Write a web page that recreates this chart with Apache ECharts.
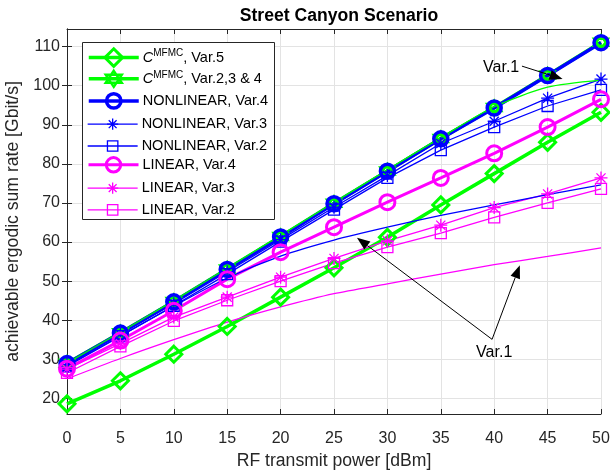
<!DOCTYPE html>
<html>
<head>
<meta charset="utf-8">
<script src="https://cdn.jsdelivr.net/npm/echarts@6/dist/echarts.min.js"></script>
<style>
  html, body { margin: 0; padding: 0; background: #fff; }
  #chart { width: 610px; height: 472px; }
</style>
</head>
<body>
<div id="chart"></div>
<script>
// RF transmit power grid [dBm]
const powerDbm = [0, 5, 10, 15, 20, 25, 30, 35, 40, 45, 50];
const yTicks = [20, 30, 40, 50, 60, 70, 80, 90, 100, 110];

// achievable ergodic sum rate [Gbit/s]
const mfmcVar5     = [18.6, 24.5, 31.3, 38.4, 45.9, 53.4, 61.2, 69.5, 77.5, 85.5, 93.2];
const mfmcVar234   = [29.0, 36.8, 44.8, 53.1, 61.4, 69.9, 78.2, 86.5, 94.4, 102.7, 111.1];
const nonlinVar4   = [28.9, 36.7, 44.7, 53.0, 61.3, 69.8, 78.1, 86.4, 94.3, 102.6, 111.0];
const nonlinVar3   = [28.7, 36.4, 44.2, 52.4, 60.6, 68.9, 77.0, 85.2, 90.9, 96.8, 101.7];
const nonlinVar2   = [28.2, 35.9, 43.7, 51.8, 60.1, 68.3, 76.4, 83.5, 89.4, 94.8, 98.9];
const linVar4      = [27.6, 34.8, 42.4, 50.5, 57.4, 63.8, 70.2, 76.4, 82.7, 89.4, 96.5];
const linVar3      = [27.5, 34.0, 40.8, 45.9, 51.0, 55.8, 60.3, 64.3, 68.8, 72.3, 76.4];
const linVar2      = [26.5, 33.3, 39.8, 45.1, 50.0, 54.6, 58.7, 62.3, 66.3, 70.0, 73.6];
// Var.1 curves (not in the legend)
const mfmcVar1     = [29.0, 36.9, 45.0, 53.3, 61.7, 70.1, 78.5, 86.7, 94.6, 99.6, 101.4];
const nonlinVar1   = [28.4, 36.0, 43.6, 50.8, 56.4, 60.5, 63.8, 66.8, 69.5, 72.1, 74.6];
const linVar1      = [25.0, 30.2, 35.0, 39.5, 43.4, 46.8, 49.3, 51.8, 54.2, 56.3, 58.5];

// Annotation anchors, in data units: text position, arrow start, arrow tips
const noteTopText  = [40.65, 104.7];
const noteTopFrom  = [42.6, 105.0];
const noteTopTips  = [[46.4, 101.7]];
const noteLowText  = [40.0, 31.6];
const noteLowFrom  = [39.8, 35.1];
const noteLowTips  = [[27.15, 61.1], [42.4, 54.05]];

const GREEN = '#00ff00', BLUE = '#0000ff', MAGENTA = '#ff00ff';
const AXIS = '#262626', GRID = '#e3e3e3';
const FONT = '"Liberation Sans", Arial, Helvetica, sans-serif';

const ASTERISK = 'path://M0,-1L0,1M-1,0L1,0M-0.7,-0.7L0.7,0.7M-0.7,0.7L0.7,-0.7';
const HEXAGRAM = 'path://M0,-1L0.866,0.5L-0.866,0.5Z M0,1L0.866,-0.5L-0.866,-0.5Z';

function pair(ys) { return powerDbm.map((x, i) => [x, ys[i]]); }

function curve(name, ys, color, width, symbol, size, markerWidth, smooth) {
  return {
    type: 'line',
    name: name,
    data: pair(ys),
    symbol: symbol || 'none',
    symbolSize: size || 0,
    showSymbol: !!symbol,
    smooth: smooth || false,
    lineStyle: { color: color, width: width },
    itemStyle: { color: 'rgba(0,0,0,0)', borderColor: color, borderWidth: markerWidth || width },
    emphasis: { disabled: true },
    z: 3
  };
}

const series = [
  curve('CMFMC, Var.5', mfmcVar5, GREEN, 3.5, 'diamond', 16, 3),
  curve('CMFMC, Var.2,3 & 4', mfmcVar234, GREEN, 3.5, HEXAGRAM, 14, 2.5),
  curve('NONLINEAR, Var.4', nonlinVar4, BLUE, 3.5, 'circle', 14, 3.5),
  curve('NONLINEAR, Var.3', nonlinVar3, BLUE, 1.3, ASTERISK, 13, 1.3),
  curve('NONLINEAR, Var.2', nonlinVar2, BLUE, 1.3, 'rect', 11, 1.3),
  curve('LINEAR, Var.4', linVar4, MAGENTA, 3, 'circle', 15, 3),
  curve('LINEAR, Var.3', linVar3, MAGENTA, 1.3, ASTERISK, 13, 1.3),
  curve('LINEAR, Var.2', linVar2, MAGENTA, 1.3, 'rect', 11, 1.3),
  curve('mfmcVar1', mfmcVar1, GREEN, 1.3, null, 0, 0, 0.25),
  curve('nonlinVar1', nonlinVar1, BLUE, 1.3, null, 0, 0, 0.25),
  curve('linVar1', linVar1, MAGENTA, 1.3, null, 0, 0, 0.25)
];

// legend icon height per entry (marker size in the key follows it)
const legendIconHeights = [22, 20, 18, 14, 13, 18, 14, 13];
const LEGEND_LEFT = 82, LEGEND_TOP = 42, LEGEND_W = 192, LEGEND_H = 177;
const ROW_FIRST = 58.3, ROW_STEP = 21.3;

const legendRich = {
  it: { fontFamily: FONT, fontSize: 14.5, fontStyle: 'italic', color: '#000', lineHeight: 18 },
  sup: { fontFamily: FONT, fontSize: 10, color: '#000', lineHeight: 6, verticalAlign: 'top' }
};

const legends = series.slice(0, 8).map((s, i) => {
  const h = legendIconHeights[i];
  return {
    data: [s.name],
    orient: 'vertical',
    left: LEGEND_LEFT + 5,
    top: ROW_FIRST + i * ROW_STEP - h / 2,
    padding: 0,
    itemWidth: 50, itemHeight: h,
    selectedMode: false,
    z: 10,
    lineStyle: { width: 'inherit' },
    itemStyle: { borderWidth: 'inherit' },
    formatter: function (name) {
      if (name.indexOf('CMFMC') === 0) {
        return '{it|C}{sup|MFMC}' + name.slice(5);
      }
      return name;
    },
    textStyle: {
      fontFamily: FONT, fontSize: 14.5, color: '#000', lineHeight: 18, padding: [0, 0, 0, -1],
      rich: legendRich
    }
  };
});

const chart = echarts.init(document.getElementById('chart'), null, { renderer: 'canvas' });

const option = {
  animation: false,
  backgroundColor: '#fff',
  textStyle: { fontFamily: FONT },
  title: {
    text: 'Street Canyon Scenario',
    left: 334, top: 2, textAlign: 'center',
    textStyle: { fontFamily: FONT, fontWeight: 'bold', fontSize: 17.6, color: '#000' }
  },
  grid: { left: 67, right: 9, top: 29, bottom: 58, containLabel: false, outerBoundsMode: 'none' },
  legend: legends,
  xAxis: [{
    type: 'value', min: 0, max: 50, interval: 5,
    name: 'RF transmit power [dBm]', nameLocation: 'middle', nameGap: 38,
    nameTextStyle: { fontFamily: FONT, fontSize: 17.6, color: '#262626' },
    axisLine: { show: true, lineStyle: { color: AXIS, width: 1 } },
    axisTick: { show: true, inside: true, length: 5, lineStyle: { color: AXIS } },
    axisLabel: { fontFamily: FONT, fontSize: 16, color: '#262626', margin: 17 },
    splitLine: { show: true, lineStyle: { color: GRID, width: 1 } }
  }, {
    type: 'value', min: 0, max: 50, interval: 5, position: 'top',
    axisLine: { show: true, lineStyle: { color: AXIS, width: 1 } },
    axisTick: { show: true, inside: true, length: 5, lineStyle: { color: AXIS } },
    axisLabel: { show: false },
    splitLine: { show: false }
  }],
  yAxis: [{
    type: 'value', min: 16, max: 114.5,
    name: 'achievable ergodic sum rate [Gbit/s]', nameLocation: 'middle', nameGap: 30,
    nameTextStyle: { fontFamily: FONT, fontSize: 17.6, color: '#262626' },
    axisLine: { show: true, lineStyle: { color: AXIS, width: 1 } },
    axisTick: { show: true, inside: true, length: 5, lineStyle: { color: AXIS }, customValues: yTicks },
    axisLabel: { fontFamily: FONT, fontSize: 16, color: '#262626', margin: 7, customValues: yTicks },
    splitLine: { show: true, lineStyle: { color: GRID, width: 1 } }
  }, {
    type: 'value', min: 16, max: 114.5, position: 'right',
    axisLine: { show: true, lineStyle: { color: AXIS, width: 1 } },
    axisTick: { show: true, inside: true, length: 5, lineStyle: { color: AXIS }, customValues: yTicks },
    axisLabel: { show: false, customValues: yTicks },
    splitLine: { show: false }
  }],
  series: series
};

chart.setOption(option);

// Arrow annotations placed through the chart's own coordinate conversion
function toPx(p) { return chart.convertToPixel({ xAxisIndex: 0, yAxisIndex: 0 }, p); }

function arrow(fromVal, tipVal) {
  const a = toPx(fromVal), b = toPx(tipVal);
  const dx = b[0] - a[0], dy = b[1] - a[1];
  const len = Math.sqrt(dx * dx + dy * dy);
  const ux = dx / len, uy = dy / len;
  const headLen = 13, headHalf = 5;
  const bx = b[0] - ux * headLen, by = b[1] - uy * headLen;
  return [{
    type: 'line',
    shape: { x1: a[0], y1: a[1], x2: bx, y2: by },
    style: { stroke: '#000', lineWidth: 1 },
    z: 100
  }, {
    type: 'polygon',
    shape: { points: [[b[0], b[1]], [bx - uy * headHalf, by + ux * headHalf], [bx + uy * headHalf, by - ux * headHalf]] },
    style: { fill: '#000' },
    z: 100
  }];
}

function label(posVal, text) {
  const p = toPx(posVal);
  return {
    type: 'text', x: p[0], y: p[1],
    style: { text: text, fill: '#000', font: '16px ' + FONT, textAlign: 'center', textVerticalAlign: 'middle' },
    z: 100
  };
}

// white key box with a dark frame, under the legend entries
let graphics = [{
  type: 'rect',
  shape: { x: LEGEND_LEFT + 0.5, y: LEGEND_TOP + 0.5, width: LEGEND_W, height: LEGEND_H },
  style: { fill: '#fff', stroke: AXIS, lineWidth: 1 },
  z: 5
}, label(noteTopText, 'Var.1'), label(noteLowText, 'Var.1')];
noteTopTips.forEach(t => { graphics = graphics.concat(arrow(noteTopFrom, t)); });
noteLowTips.forEach(t => { graphics = graphics.concat(arrow(noteLowFrom, t)); });

chart.setOption({ graphic: graphics });
</script>
</body>
</html>
